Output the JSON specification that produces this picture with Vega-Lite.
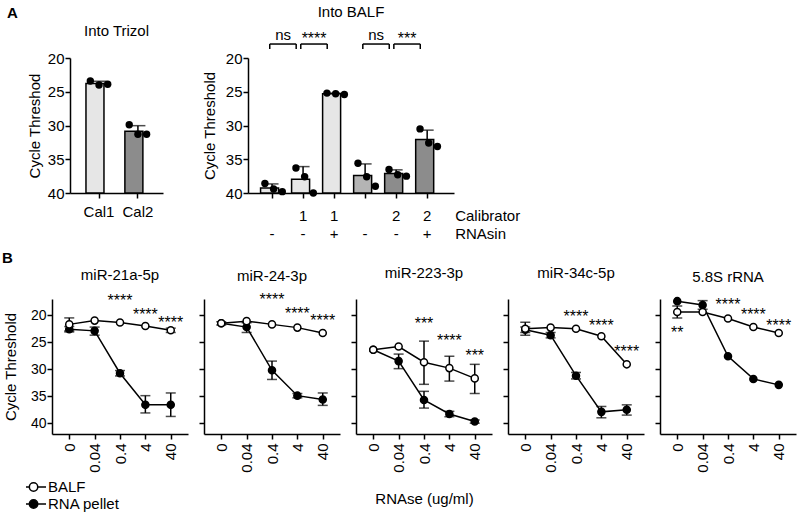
{
  "$schema": "https://vega.github.io/schema/vega-lite/v6.json",
  "background": "white",
  "padding": {"left": 2, "top": 4, "right": 5, "bottom": 5},
  "config": {
    "font": "Liberation Sans",
    "view": {"stroke": null},
    "axis": {"domainColor": "black", "domainWidth": 1.5, "tickColor": "black", "tickWidth": 1.5, "tickSize": 5, "labelColor": "black", "titleColor": "black", "titleFontWeight": "normal", "grid": false, "labelFontSize": 14, "titleFontSize": 15, "labelPadding": 1},
    "title": {"fontSize": 15, "fontWeight": "normal", "color": "black"},
    "legend": {"labelFontSize": 15, "labelColor": "black"}
  },
  "datasets": {
    "trizol": [
      {"cal": "Cal1", "rep": 1, "ct": 23.4}, {"cal": "Cal1", "rep": 2, "ct": 24.0}, {"cal": "Cal1", "rep": 3, "ct": 23.9},
      {"cal": "Cal2", "rep": 1, "ct": 29.9}, {"cal": "Cal2", "rep": 2, "ct": 31.3}, {"cal": "Cal2", "rep": 3, "ct": 31.3}
    ],
    "balf": [
      {"bar": "1", "rep": 1, "ct": 38.6}, {"bar": "1", "rep": 2, "ct": 39.4}, {"bar": "1", "rep": 3, "ct": 39.8},
      {"bar": "2", "rep": 1, "ct": 36.3}, {"bar": "2", "rep": 2, "ct": 37.6}, {"bar": "2", "rep": 3, "ct": 40.0},
      {"bar": "3", "rep": 1, "ct": 25.2}, {"bar": "3", "rep": 2, "ct": 25.3}, {"bar": "3", "rep": 3, "ct": 25.4},
      {"bar": "4", "rep": 1, "ct": 35.6}, {"bar": "4", "rep": 2, "ct": 37.6}, {"bar": "4", "rep": 3, "ct": 39.0},
      {"bar": "5", "rep": 1, "ct": 36.5}, {"bar": "5", "rep": 2, "ct": 37.3}, {"bar": "5", "rep": 3, "ct": 37.5},
      {"bar": "6", "rep": 1, "ct": 30.5}, {"bar": "6", "rep": 2, "ct": 32.6}, {"bar": "6", "rep": 3, "ct": 33.1}
    ],
    "conditions": [
      {"bar": "1", "calibrator": "", "rnasin": "-"},
      {"bar": "2", "calibrator": "1", "rnasin": "-"},
      {"bar": "3", "calibrator": "1", "rnasin": "+"},
      {"bar": "4", "calibrator": "", "rnasin": "-"},
      {"bar": "5", "calibrator": "2", "rnasin": "-"},
      {"bar": "6", "calibrator": "2", "rnasin": "+"}
    ],
    "rowlabels": [
      {"bar": "6", "row": "Calibrator", "y": 44.15},
      {"bar": "6", "row": "RNAsin", "y": 46.8}
    ],
    "brackets": [
      {"a": "1", "b": "2", "label": "ns"},
      {"a": "2", "b": "3", "label": "****"},
      {"a": "4", "b": "5", "label": "ns"},
      {"a": "5", "b": "6", "label": "***"}
    ],
    "curves": [
      {"target": "miR-21a-5p", "series": "RNA pellet", "dose": "0", "ct": 22.6, "lo": 22.1, "hi": 23.1},
      {"target": "miR-21a-5p", "series": "RNA pellet", "dose": "0.04", "ct": 22.9, "lo": 22.2, "hi": 23.7},
      {"target": "miR-21a-5p", "series": "RNA pellet", "dose": "0.4", "ct": 30.75, "lo": 30.25, "hi": 31.25},
      {"target": "miR-21a-5p", "series": "RNA pellet", "dose": "4", "ct": 36.6, "lo": 34.9, "hi": 38.1},
      {"target": "miR-21a-5p", "series": "RNA pellet", "dose": "40", "ct": 36.6, "lo": 34.4, "hi": 38.75},
      {"target": "miR-21a-5p", "series": "BALF", "dose": "0", "ct": 21.7, "lo": 20.5, "hi": 22.9},
      {"target": "miR-21a-5p", "series": "BALF", "dose": "0.04", "ct": 21.0, "lo": null, "hi": null},
      {"target": "miR-21a-5p", "series": "BALF", "dose": "0.4", "ct": 21.35, "lo": null, "hi": null},
      {"target": "miR-21a-5p", "series": "BALF", "dose": "4", "ct": 22.0, "lo": null, "hi": null},
      {"target": "miR-21a-5p", "series": "BALF", "dose": "40", "ct": 22.8, "lo": 22.4, "hi": 23.2},

      {"target": "miR-24-3p", "series": "RNA pellet", "dose": "0", "ct": 21.5, "lo": 21.2, "hi": 21.8},
      {"target": "miR-24-3p", "series": "RNA pellet", "dose": "0.04", "ct": 22.2, "lo": 21.4, "hi": 23.2},
      {"target": "miR-24-3p", "series": "RNA pellet", "dose": "0.4", "ct": 30.2, "lo": 28.5, "hi": 31.9},
      {"target": "miR-24-3p", "series": "RNA pellet", "dose": "4", "ct": 34.9, "lo": 34.5, "hi": 35.3},
      {"target": "miR-24-3p", "series": "RNA pellet", "dose": "40", "ct": 35.6, "lo": 34.4, "hi": 36.7},
      {"target": "miR-24-3p", "series": "BALF", "dose": "0", "ct": 21.5, "lo": null, "hi": null},
      {"target": "miR-24-3p", "series": "BALF", "dose": "0.04", "ct": 21.1, "lo": null, "hi": null},
      {"target": "miR-24-3p", "series": "BALF", "dose": "0.4", "ct": 21.7, "lo": null, "hi": null},
      {"target": "miR-24-3p", "series": "BALF", "dose": "4", "ct": 22.3, "lo": null, "hi": null},
      {"target": "miR-24-3p", "series": "BALF", "dose": "40", "ct": 23.3, "lo": null, "hi": null},

      {"target": "miR-223-3p", "series": "RNA pellet", "dose": "0", "ct": 26.4, "lo": null, "hi": null},
      {"target": "miR-223-3p", "series": "RNA pellet", "dose": "0.04", "ct": 28.5, "lo": 27.2, "hi": 29.9},
      {"target": "miR-223-3p", "series": "RNA pellet", "dose": "0.4", "ct": 35.7, "lo": 34.1, "hi": 37.2},
      {"target": "miR-223-3p", "series": "RNA pellet", "dose": "4", "ct": 38.3, "lo": 37.8, "hi": 38.8},
      {"target": "miR-223-3p", "series": "RNA pellet", "dose": "40", "ct": 39.7, "lo": 39.4, "hi": 40.0},
      {"target": "miR-223-3p", "series": "BALF", "dose": "0", "ct": 26.4, "lo": null, "hi": null},
      {"target": "miR-223-3p", "series": "BALF", "dose": "0.04", "ct": 25.8, "lo": null, "hi": null},
      {"target": "miR-223-3p", "series": "BALF", "dose": "0.4", "ct": 28.7, "lo": 24.8, "hi": 32.8},
      {"target": "miR-223-3p", "series": "BALF", "dose": "4", "ct": 29.8, "lo": 27.6, "hi": 32.2},
      {"target": "miR-223-3p", "series": "BALF", "dose": "40", "ct": 31.7, "lo": 29.1, "hi": 34.5},

      {"target": "miR-34c-5p", "series": "RNA pellet", "dose": "0", "ct": 22.7, "lo": 22.2, "hi": 23.2},
      {"target": "miR-34c-5p", "series": "RNA pellet", "dose": "0.04", "ct": 23.7, "lo": 23.2, "hi": 24.2},
      {"target": "miR-34c-5p", "series": "RNA pellet", "dose": "0.4", "ct": 31.2, "lo": 30.6, "hi": 31.8},
      {"target": "miR-34c-5p", "series": "RNA pellet", "dose": "4", "ct": 37.9, "lo": 36.9, "hi": 39.0},
      {"target": "miR-34c-5p", "series": "RNA pellet", "dose": "40", "ct": 37.5, "lo": 36.6, "hi": 38.5},
      {"target": "miR-34c-5p", "series": "BALF", "dose": "0", "ct": 22.5, "lo": 21.3, "hi": 23.7},
      {"target": "miR-34c-5p", "series": "BALF", "dose": "0.04", "ct": 22.3, "lo": null, "hi": null},
      {"target": "miR-34c-5p", "series": "BALF", "dose": "0.4", "ct": 22.5, "lo": null, "hi": null},
      {"target": "miR-34c-5p", "series": "BALF", "dose": "4", "ct": 23.9, "lo": null, "hi": null},
      {"target": "miR-34c-5p", "series": "BALF", "dose": "40", "ct": 29.1, "lo": null, "hi": null},

      {"target": "5.8S rRNA", "series": "RNA pellet", "dose": "0", "ct": 17.4, "lo": null, "hi": null},
      {"target": "5.8S rRNA", "series": "RNA pellet", "dose": "0.04", "ct": 18.1, "lo": 17.3, "hi": 18.9},
      {"target": "5.8S rRNA", "series": "RNA pellet", "dose": "0.4", "ct": 27.6, "lo": null, "hi": null},
      {"target": "5.8S rRNA", "series": "RNA pellet", "dose": "4", "ct": 31.8, "lo": null, "hi": null},
      {"target": "5.8S rRNA", "series": "RNA pellet", "dose": "40", "ct": 32.9, "lo": null, "hi": null},
      {"target": "5.8S rRNA", "series": "BALF", "dose": "0", "ct": 19.4, "lo": 18.3, "hi": 20.5},
      {"target": "5.8S rRNA", "series": "BALF", "dose": "0.04", "ct": 19.4, "lo": null, "hi": null},
      {"target": "5.8S rRNA", "series": "BALF", "dose": "0.4", "ct": 20.6, "lo": null, "hi": null},
      {"target": "5.8S rRNA", "series": "BALF", "dose": "4", "ct": 22.2, "lo": null, "hi": null},
      {"target": "5.8S rRNA", "series": "BALF", "dose": "40", "ct": 23.3, "lo": null, "hi": null}
    ],
    "stars": [
      {"target": "miR-21a-5p", "dose": "0.4", "label": "****", "y": 16.6},
      {"target": "miR-21a-5p", "dose": "4", "label": "****", "y": 19.2},
      {"target": "miR-21a-5p", "dose": "40", "label": "****", "y": 20.7},
      {"target": "miR-24-3p", "dose": "0.4", "label": "****", "y": 16.5},
      {"target": "miR-24-3p", "dose": "4", "label": "****", "y": 19.0},
      {"target": "miR-24-3p", "dose": "40", "label": "****", "y": 20.4},
      {"target": "miR-223-3p", "dose": "0.4", "label": "***", "y": 20.8},
      {"target": "miR-223-3p", "dose": "4", "label": "****", "y": 24.1},
      {"target": "miR-223-3p", "dose": "40", "label": "***", "y": 26.8},
      {"target": "miR-34c-5p", "dose": "0.4", "label": "****", "y": 19.5},
      {"target": "miR-34c-5p", "dose": "4", "label": "****", "y": 21.3},
      {"target": "miR-34c-5p", "dose": "40", "label": "****", "y": 26.0},
      {"target": "5.8S rRNA", "dose": "0", "label": "**", "y": 22.5},
      {"target": "5.8S rRNA", "dose": "0.4", "label": "****", "y": 17.4},
      {"target": "5.8S rRNA", "dose": "4", "label": "****", "y": 19.3},
      {"target": "5.8S rRNA", "dose": "40", "label": "****", "y": 21.3}
    ]
  },
  "columns": 1,
  "align": "none",
  "spacing": 9,
  "concat": [
    {
      "title": {"text": "A", "anchor": "start", "fontSize": 15, "fontWeight": "bold", "offset": -16, "dx": 5},
      "spacing": 39,
      "resolve": {"scale": {"color": "independent"}},
      "hconcat": [
        {
          "spacing": 0,
          "hconcat": [
            {"width": 25, "height": 135, "data": {"values": []}, "mark": "point"},
            {
              "width": 93, "height": 135,
              "title": {"text": "Into Trizol", "frame": "group", "offset": 12},
              "data": {"name": "trizol"},
              "encoding": {
                "x": {"field": "cal", "type": "nominal", "title": null, "scale": {"paddingInner": 0.33, "paddingOuter": 0.36, "align": 0.57}, "axis": {"labelAngle": 0, "labelFontSize": 15, "labelPadding": 6}}
              },
              "layer": [
                {
                  "transform": [
                    {"aggregate": [{"op": "mean", "field": "ct", "as": "m"}, {"op": "stdev", "field": "ct", "as": "sd"}], "groupby": ["cal"]},
                    {"calculate": "datum.m - datum.sd", "as": "top"}
                  ],
                  "layer": [
                    {"mark": {"type": "rule", "color": "black", "strokeWidth": 1.5}, "encoding": {"y": {"field": "m", "type": "quantitative", "title": "Cycle Threshod", "scale": {"domain": [20, 40], "reverse": true, "nice": false, "zero": false}, "axis": {"values": [20, 25, 30, 35, 40], "labelFontSize": 15, "titlePadding": 5}}, "y2": {"field": "top"}}},
                    {"mark": {"type": "tick", "color": "black", "thickness": 1.5, "size": 15}, "encoding": {"y": {"field": "top", "type": "quantitative", "title": "Cycle Threshod", "scale": {"domain": [20, 40], "reverse": true, "nice": false, "zero": false}, "axis": {"values": [20, 25, 30, 35, 40], "labelFontSize": 15, "titlePadding": 5}}}}
                  ]
                },
                {
                  "mark": {"type": "bar", "stroke": "black", "strokeWidth": 1.5},
                  "encoding": {
                    "y": {"aggregate": "mean", "field": "ct", "type": "quantitative", "title": "Cycle Threshod", "scale": {"domain": [20, 40], "reverse": true, "nice": false, "zero": false}, "axis": {"values": [20, 25, 30, 35, 40], "labelFontSize": 15, "titlePadding": 5}},
                    "y2": {"datum": 40},
                    "color": {"field": "cal", "type": "nominal", "scale": {"domain": ["Cal1", "Cal2"], "range": ["#e6e6e6", "#8c8c8c"]}, "legend": null}
                  }
                },
                {
                  "mark": {"type": "point", "shape": "circle", "filled": true, "color": "black", "size": 55, "opacity": 1},
                  "encoding": {
                    "y": {"field": "ct", "type": "quantitative", "title": "Cycle Threshod", "scale": {"domain": [20, 40], "reverse": true, "nice": false, "zero": false}, "axis": {"values": [20, 25, 30, 35, 40], "labelFontSize": 15, "titlePadding": 5}},
                    "xOffset": {"field": "rep", "type": "nominal"}
                  }
                }
              ]
            }
          ]
        },
        {
          "width": 206, "height": 135,
          "title": {"text": "Into BALF", "frame": "group", "offset": 8},
          "encoding": {
            "x": {"field": "bar", "type": "nominal", "title": null, "scale": {"domain": ["1", "2", "3", "4", "5", "6"], "paddingInner": 0.26, "paddingOuter": 0.45, "align": 0.45}, "axis": {"labels": false}}
          },
          "layer": [
            {
              "data": {"name": "balf"},
              "transform": [
                {"aggregate": [{"op": "mean", "field": "ct", "as": "m"}, {"op": "stdev", "field": "ct", "as": "sd"}], "groupby": ["bar"]},
                {"calculate": "datum.m - datum.sd", "as": "top"}
              ],
              "layer": [
                {"mark": {"type": "rule", "color": "black", "strokeWidth": 1.5}, "encoding": {"y": {"field": "m", "type": "quantitative", "title": "Cycle Threshold", "scale": {"domain": [20, 40], "reverse": true, "nice": false, "zero": false}, "axis": {"values": [20, 25, 30, 35, 40], "labelFontSize": 15, "titlePadding": 8}}, "y2": {"field": "top"}}},
                {"mark": {"type": "tick", "color": "black", "thickness": 1.5, "size": 13}, "encoding": {"y": {"field": "top", "type": "quantitative", "title": "Cycle Threshold", "scale": {"domain": [20, 40], "reverse": true, "nice": false, "zero": false}, "axis": {"values": [20, 25, 30, 35, 40], "labelFontSize": 15, "titlePadding": 8}}}}
              ]
            },
            {
              "data": {"name": "balf"},
              "mark": {"type": "bar", "stroke": "black", "strokeWidth": 1.5},
              "encoding": {
                "y": {"aggregate": "mean", "field": "ct", "type": "quantitative", "title": "Cycle Threshold", "scale": {"domain": [20, 40], "reverse": true, "nice": false, "zero": false}, "axis": {"values": [20, 25, 30, 35, 40], "labelFontSize": 15, "titlePadding": 8}},
                "y2": {"datum": 40},
                "color": {"field": "bar", "type": "nominal", "scale": {"domain": ["1", "2", "3", "4", "5", "6"], "range": ["#e6e6e6", "#e6e6e6", "#e6e6e6", "#b4b4b4", "#8c8c8c", "#8c8c8c"]}, "legend": null}
              }
            },
            {
              "data": {"name": "balf"},
              "mark": {"type": "point", "shape": "circle", "filled": true, "color": "black", "size": 55, "opacity": 1},
              "encoding": {
                "y": {"field": "ct", "type": "quantitative", "title": "Cycle Threshold", "scale": {"domain": [20, 40], "reverse": true, "nice": false, "zero": false}, "axis": {"values": [20, 25, 30, 35, 40], "labelFontSize": 15, "titlePadding": 8}},
                "xOffset": {"field": "rep", "type": "nominal"}
              }
            },
            {
              "data": {"name": "conditions"},
              "mark": {"type": "text", "fontSize": 15, "baseline": "alphabetic", "align": "center"},
              "encoding": {"y": {"datum": 44.15, "title": "Cycle Threshold", "scale": {"domain": [20, 40], "reverse": true, "nice": false, "zero": false}, "axis": {"values": [20, 25, 30, 35, 40], "labelFontSize": 15, "titlePadding": 8}}, "text": {"field": "calibrator"}}
            },
            {
              "data": {"name": "conditions"},
              "mark": {"type": "text", "fontSize": 15, "baseline": "alphabetic", "align": "center"},
              "encoding": {"y": {"datum": 46.8, "title": "Cycle Threshold", "scale": {"domain": [20, 40], "reverse": true, "nice": false, "zero": false}, "axis": {"values": [20, 25, 30, 35, 40], "labelFontSize": 15, "titlePadding": 8}}, "text": {"field": "rnasin"}}
            },
            {
              "data": {"name": "rowlabels"},
              "mark": {"type": "text", "fontSize": 15, "baseline": "alphabetic", "align": "left"},
              "encoding": {"x": {"field": "bar", "type": "nominal", "bandPosition": 1.72}, "y": {"field": "y", "type": "quantitative", "title": "Cycle Threshold", "scale": {"domain": [20, 40], "reverse": true, "nice": false, "zero": false}, "axis": {"values": [20, 25, 30, 35, 40], "labelFontSize": 15, "titlePadding": 8}}, "text": {"field": "row"}}
            },
            {
              "data": {"name": "brackets"},
              "mark": {"type": "rule", "color": "black", "strokeWidth": 1.5},
              "encoding": {"x": {"field": "a", "type": "nominal", "bandPosition": 0.4}, "x2": {"field": "b", "bandPosition": 0.2}, "y": {"datum": 17.93, "title": "Cycle Threshold", "scale": {"domain": [20, 40], "reverse": true, "nice": false, "zero": false}, "axis": {"values": [20, 25, 30, 35, 40], "labelFontSize": 15, "titlePadding": 8}}}
            },
            {
              "data": {"name": "brackets"},
              "mark": {"type": "rule", "color": "black", "strokeWidth": 1.5},
              "encoding": {"x": {"field": "a", "type": "nominal", "bandPosition": 0.4}, "y": {"datum": 17.93, "title": "Cycle Threshold", "scale": {"domain": [20, 40], "reverse": true, "nice": false, "zero": false}, "axis": {"values": [20, 25, 30, 35, 40], "labelFontSize": 15, "titlePadding": 8}}, "y2": {"datum": 18.67}}
            },
            {
              "data": {"name": "brackets"},
              "mark": {"type": "rule", "color": "black", "strokeWidth": 1.5},
              "encoding": {"x": {"field": "b", "type": "nominal", "bandPosition": 0.2}, "y": {"datum": 17.93, "title": "Cycle Threshold", "scale": {"domain": [20, 40], "reverse": true, "nice": false, "zero": false}, "axis": {"values": [20, 25, 30, 35, 40], "labelFontSize": 15, "titlePadding": 8}}, "y2": {"datum": 18.67}}
            },
            {
              "data": {"name": "brackets"},
              "transform": [{"filter": "datum.label === 'ns'"}],
              "mark": {"type": "text", "fontSize": 15, "baseline": "alphabetic", "align": "center"},
              "encoding": {"x": {"field": "a", "type": "nominal", "bandPosition": 0.98}, "y": {"datum": 17.3, "title": "Cycle Threshold", "scale": {"domain": [20, 40], "reverse": true, "nice": false, "zero": false}, "axis": {"values": [20, 25, 30, 35, 40], "labelFontSize": 15, "titlePadding": 8}}, "text": {"field": "label"}}
            },
            {
              "data": {"name": "brackets"},
              "transform": [{"filter": "datum.label !== 'ns'"}],
              "mark": {"type": "text", "fontSize": 16, "baseline": "alphabetic", "align": "center"},
              "encoding": {"x": {"field": "a", "type": "nominal", "bandPosition": 0.98}, "y": {"datum": 17.95, "title": "Cycle Threshold", "scale": {"domain": [20, 40], "reverse": true, "nice": false, "zero": false}, "axis": {"values": [20, 25, 30, 35, 40], "labelFontSize": 15, "titlePadding": 8}}, "text": {"field": "label"}}
            }
          ]
        }
      ]
    },
    {
      "title": {"text": "B", "anchor": "start", "fontSize": 15, "fontWeight": "bold", "offset": 0},
      "spacing": 10,
      "hconcat": [
        {
          "spacing": 0,
          "hconcat": [
            {"width": 1, "height": 135, "data": {"values": []}, "mark": "point"},
            {
              "width": 136, "height": 135,
              "title": {"text": "miR-21a-5p", "frame": "group", "offset": 10},
              "data": {"name": "curves"},
              "transform": [{"filter": "datum.target === 'miR-21a-5p'"}],
              "encoding": {"x": {"field": "dose", "type": "ordinal", "title": null, "sort": ["0", "0.04", "0.4", "4", "40"], "scale": {"type": "point", "padding": 0.68}, "axis": {"labelAngle": 270, "labelFontSize": 15, "labelPadding": 4}}},
              "layer": [
                {"mark": {"type": "rule", "color": "black", "strokeWidth": 1.5}, "encoding": {"y": {"field": "lo", "type": "quantitative", "title": "Cycle Threshold", "scale": {"domain": [17, 42], "reverse": true, "nice": false, "zero": false}, "axis": {"values": [20, 25, 30, 35, 40], "titlePadding": 12}}, "y2": {"field": "hi"}}},
                {"mark": {"type": "tick", "color": "black", "thickness": 1.5, "size": 10}, "encoding": {"y": {"field": "lo", "type": "quantitative", "title": "Cycle Threshold", "scale": {"domain": [17, 42], "reverse": true, "nice": false, "zero": false}, "axis": {"values": [20, 25, 30, 35, 40], "titlePadding": 12}}}},
                {"mark": {"type": "tick", "color": "black", "thickness": 1.5, "size": 10}, "encoding": {"y": {"field": "hi", "type": "quantitative", "title": "Cycle Threshold", "scale": {"domain": [17, 42], "reverse": true, "nice": false, "zero": false}, "axis": {"values": [20, 25, 30, 35, 40], "titlePadding": 12}}}},
                {"mark": {"type": "line", "color": "black", "strokeWidth": 1.5}, "encoding": {"y": {"field": "ct", "type": "quantitative", "title": "Cycle Threshold", "scale": {"domain": [17, 42], "reverse": true, "nice": false, "zero": false}, "axis": {"values": [20, 25, 30, 35, 40], "titlePadding": 12}}, "detail": {"field": "series"}}},
                {"mark": {"type": "point", "shape": "circle", "filled": true, "stroke": "black", "strokeWidth": 1.5, "size": 50, "opacity": 1}, "encoding": {"y": {"field": "ct", "type": "quantitative", "title": "Cycle Threshold", "scale": {"domain": [17, 42], "reverse": true, "nice": false, "zero": false}, "axis": {"values": [20, 25, 30, 35, 40], "titlePadding": 12}}, "fill": {"field": "series", "type": "nominal", "scale": {"domain": ["BALF", "RNA pellet"], "range": ["white", "black"]}, "legend": {"title": null, "orient": "none", "legendX": 26, "legendY": 421, "symbolType": "M-1.43,0L-0.95,0M-0.35,-0.6A0.6,0.6,0,1,1,-0.35,0.6A0.6,0.6,0,1,1,-0.35,-0.6M0.25,0L1.43,0", "symbolSize": 196, "symbolStrokeColor": "black", "symbolStrokeWidth": 1.5, "rowPadding": 1}}}},
                {"data": {"name": "stars"}, "transform": [{"filter": "datum.target === 'miR-21a-5p'"}], "mark": {"type": "text", "fontSize": 16, "baseline": "alphabetic", "dy": 9}, "encoding": {"y": {"field": "y", "type": "quantitative", "title": "Cycle Threshold", "scale": {"domain": [17, 42], "reverse": true, "nice": false, "zero": false}, "axis": {"values": [20, 25, 30, 35, 40], "titlePadding": 12}}, "text": {"field": "label"}}}
              ]
            }
          ]
        },
        {
          "width": 136, "height": 135,
          "title": {"text": "miR-24-3p", "frame": "group", "offset": 8},
          "data": {"name": "curves"},
          "transform": [{"filter": "datum.target === 'miR-24-3p'"}],
          "encoding": {"x": {"field": "dose", "type": "ordinal", "title": null, "sort": ["0", "0.04", "0.4", "4", "40"], "scale": {"type": "point", "padding": 0.68}, "axis": {"labelAngle": 270, "labelFontSize": 15, "labelPadding": 4}}},
          "layer": [
            {"mark": {"type": "rule", "color": "black", "strokeWidth": 1.5}, "encoding": {"y": {"field": "lo", "type": "quantitative", "title": null, "scale": {"domain": [17, 42], "reverse": true, "nice": false, "zero": false}, "axis": {"values": [20, 25, 30, 35, 40], "labels": false}}, "y2": {"field": "hi"}}},
            {"mark": {"type": "tick", "color": "black", "thickness": 1.5, "size": 10}, "encoding": {"y": {"field": "lo", "type": "quantitative", "title": null, "scale": {"domain": [17, 42], "reverse": true, "nice": false, "zero": false}, "axis": {"values": [20, 25, 30, 35, 40], "labels": false}}}},
            {"mark": {"type": "tick", "color": "black", "thickness": 1.5, "size": 10}, "encoding": {"y": {"field": "hi", "type": "quantitative", "title": null, "scale": {"domain": [17, 42], "reverse": true, "nice": false, "zero": false}, "axis": {"values": [20, 25, 30, 35, 40], "labels": false}}}},
            {"mark": {"type": "line", "color": "black", "strokeWidth": 1.5}, "encoding": {"y": {"field": "ct", "type": "quantitative", "title": null, "scale": {"domain": [17, 42], "reverse": true, "nice": false, "zero": false}, "axis": {"values": [20, 25, 30, 35, 40], "labels": false}}, "detail": {"field": "series"}}},
            {"mark": {"type": "point", "shape": "circle", "filled": true, "stroke": "black", "strokeWidth": 1.5, "size": 50, "opacity": 1}, "encoding": {"y": {"field": "ct", "type": "quantitative", "title": null, "scale": {"domain": [17, 42], "reverse": true, "nice": false, "zero": false}, "axis": {"values": [20, 25, 30, 35, 40], "labels": false}}, "fill": {"field": "series", "type": "nominal", "scale": {"domain": ["BALF", "RNA pellet"], "range": ["white", "black"]}, "legend": {"title": null, "orient": "none", "legendX": 26, "legendY": 421, "symbolType": "M-1.43,0L-0.95,0M-0.35,-0.6A0.6,0.6,0,1,1,-0.35,0.6A0.6,0.6,0,1,1,-0.35,-0.6M0.25,0L1.43,0", "symbolSize": 196, "symbolStrokeColor": "black", "symbolStrokeWidth": 1.5, "rowPadding": 1}}}},
            {"data": {"name": "stars"}, "transform": [{"filter": "datum.target === 'miR-24-3p'"}], "mark": {"type": "text", "fontSize": 16, "baseline": "alphabetic", "dy": 9}, "encoding": {"y": {"field": "y", "type": "quantitative", "title": null, "scale": {"domain": [17, 42], "reverse": true, "nice": false, "zero": false}, "axis": {"values": [20, 25, 30, 35, 40], "labels": false}}, "text": {"field": "label"}}}
          ]
        },
        {
          "width": 136, "height": 135,
          "title": {"text": "miR-223-3p", "frame": "group", "offset": 18},
          "data": {"name": "curves"},
          "transform": [{"filter": "datum.target === 'miR-223-3p'"}],
          "encoding": {"x": {"field": "dose", "type": "ordinal", "title": "RNAse (ug/ml)", "sort": ["0", "0.04", "0.4", "4", "40"], "scale": {"type": "point", "padding": 0.68}, "axis": {"labelAngle": 270, "labelFontSize": 15, "labelPadding": 4, "titlePadding": 19}}},
          "layer": [
            {"mark": {"type": "rule", "color": "black", "strokeWidth": 1.5}, "encoding": {"y": {"field": "lo", "type": "quantitative", "title": null, "scale": {"domain": [17, 42], "reverse": true, "nice": false, "zero": false}, "axis": {"values": [20, 25, 30, 35, 40], "labels": false}}, "y2": {"field": "hi"}}},
            {"mark": {"type": "tick", "color": "black", "thickness": 1.5, "size": 10}, "encoding": {"y": {"field": "lo", "type": "quantitative", "title": null, "scale": {"domain": [17, 42], "reverse": true, "nice": false, "zero": false}, "axis": {"values": [20, 25, 30, 35, 40], "labels": false}}}},
            {"mark": {"type": "tick", "color": "black", "thickness": 1.5, "size": 10}, "encoding": {"y": {"field": "hi", "type": "quantitative", "title": null, "scale": {"domain": [17, 42], "reverse": true, "nice": false, "zero": false}, "axis": {"values": [20, 25, 30, 35, 40], "labels": false}}}},
            {"mark": {"type": "line", "color": "black", "strokeWidth": 1.5}, "encoding": {"y": {"field": "ct", "type": "quantitative", "title": null, "scale": {"domain": [17, 42], "reverse": true, "nice": false, "zero": false}, "axis": {"values": [20, 25, 30, 35, 40], "labels": false}}, "detail": {"field": "series"}}},
            {"mark": {"type": "point", "shape": "circle", "filled": true, "stroke": "black", "strokeWidth": 1.5, "size": 50, "opacity": 1}, "encoding": {"y": {"field": "ct", "type": "quantitative", "title": null, "scale": {"domain": [17, 42], "reverse": true, "nice": false, "zero": false}, "axis": {"values": [20, 25, 30, 35, 40], "labels": false}}, "fill": {"field": "series", "type": "nominal", "scale": {"domain": ["BALF", "RNA pellet"], "range": ["white", "black"]}, "legend": {"title": null, "orient": "none", "legendX": 26, "legendY": 421, "symbolType": "M-1.43,0L-0.95,0M-0.35,-0.6A0.6,0.6,0,1,1,-0.35,0.6A0.6,0.6,0,1,1,-0.35,-0.6M0.25,0L1.43,0", "symbolSize": 196, "symbolStrokeColor": "black", "symbolStrokeWidth": 1.5, "rowPadding": 1}}}},
            {"data": {"name": "stars"}, "transform": [{"filter": "datum.target === 'miR-223-3p'"}], "mark": {"type": "text", "fontSize": 16, "baseline": "alphabetic", "dy": 9}, "encoding": {"y": {"field": "y", "type": "quantitative", "title": null, "scale": {"domain": [17, 42], "reverse": true, "nice": false, "zero": false}, "axis": {"values": [20, 25, 30, 35, 40], "labels": false}}, "text": {"field": "label"}}}
          ]
        },
        {
          "width": 136, "height": 135,
          "title": {"text": "miR-34c-5p", "frame": "group", "offset": 18},
          "data": {"name": "curves"},
          "transform": [{"filter": "datum.target === 'miR-34c-5p'"}],
          "encoding": {"x": {"field": "dose", "type": "ordinal", "title": null, "sort": ["0", "0.04", "0.4", "4", "40"], "scale": {"type": "point", "padding": 0.68}, "axis": {"labelAngle": 270, "labelFontSize": 15, "labelPadding": 4}}},
          "layer": [
            {"mark": {"type": "rule", "color": "black", "strokeWidth": 1.5}, "encoding": {"y": {"field": "lo", "type": "quantitative", "title": null, "scale": {"domain": [17, 42], "reverse": true, "nice": false, "zero": false}, "axis": {"values": [20, 25, 30, 35, 40], "labels": false}}, "y2": {"field": "hi"}}},
            {"mark": {"type": "tick", "color": "black", "thickness": 1.5, "size": 10}, "encoding": {"y": {"field": "lo", "type": "quantitative", "title": null, "scale": {"domain": [17, 42], "reverse": true, "nice": false, "zero": false}, "axis": {"values": [20, 25, 30, 35, 40], "labels": false}}}},
            {"mark": {"type": "tick", "color": "black", "thickness": 1.5, "size": 10}, "encoding": {"y": {"field": "hi", "type": "quantitative", "title": null, "scale": {"domain": [17, 42], "reverse": true, "nice": false, "zero": false}, "axis": {"values": [20, 25, 30, 35, 40], "labels": false}}}},
            {"mark": {"type": "line", "color": "black", "strokeWidth": 1.5}, "encoding": {"y": {"field": "ct", "type": "quantitative", "title": null, "scale": {"domain": [17, 42], "reverse": true, "nice": false, "zero": false}, "axis": {"values": [20, 25, 30, 35, 40], "labels": false}}, "detail": {"field": "series"}}},
            {"mark": {"type": "point", "shape": "circle", "filled": true, "stroke": "black", "strokeWidth": 1.5, "size": 50, "opacity": 1}, "encoding": {"y": {"field": "ct", "type": "quantitative", "title": null, "scale": {"domain": [17, 42], "reverse": true, "nice": false, "zero": false}, "axis": {"values": [20, 25, 30, 35, 40], "labels": false}}, "fill": {"field": "series", "type": "nominal", "scale": {"domain": ["BALF", "RNA pellet"], "range": ["white", "black"]}, "legend": {"title": null, "orient": "none", "legendX": 26, "legendY": 421, "symbolType": "M-1.43,0L-0.95,0M-0.35,-0.6A0.6,0.6,0,1,1,-0.35,0.6A0.6,0.6,0,1,1,-0.35,-0.6M0.25,0L1.43,0", "symbolSize": 196, "symbolStrokeColor": "black", "symbolStrokeWidth": 1.5, "rowPadding": 1}}}},
            {"data": {"name": "stars"}, "transform": [{"filter": "datum.target === 'miR-34c-5p'"}], "mark": {"type": "text", "fontSize": 16, "baseline": "alphabetic", "dy": 9}, "encoding": {"y": {"field": "y", "type": "quantitative", "title": null, "scale": {"domain": [17, 42], "reverse": true, "nice": false, "zero": false}, "axis": {"values": [20, 25, 30, 35, 40], "labels": false}}, "text": {"field": "label"}}}
          ]
        },
        {
          "width": 136, "height": 135,
          "title": {"text": "5.8S rRNA", "frame": "group", "offset": 10},
          "data": {"name": "curves"},
          "transform": [{"filter": "datum.target === '5.8S rRNA'"}],
          "encoding": {"x": {"field": "dose", "type": "ordinal", "title": null, "sort": ["0", "0.04", "0.4", "4", "40"], "scale": {"type": "point", "padding": 0.68}, "axis": {"labelAngle": 270, "labelFontSize": 15, "labelPadding": 4}}},
          "layer": [
            {"mark": {"type": "rule", "color": "black", "strokeWidth": 1.5}, "encoding": {"y": {"field": "lo", "type": "quantitative", "title": null, "scale": {"domain": [17, 42], "reverse": true, "nice": false, "zero": false}, "axis": {"values": [20, 25, 30, 35, 40], "labels": false}}, "y2": {"field": "hi"}}},
            {"mark": {"type": "tick", "color": "black", "thickness": 1.5, "size": 10}, "encoding": {"y": {"field": "lo", "type": "quantitative", "title": null, "scale": {"domain": [17, 42], "reverse": true, "nice": false, "zero": false}, "axis": {"values": [20, 25, 30, 35, 40], "labels": false}}}},
            {"mark": {"type": "tick", "color": "black", "thickness": 1.5, "size": 10}, "encoding": {"y": {"field": "hi", "type": "quantitative", "title": null, "scale": {"domain": [17, 42], "reverse": true, "nice": false, "zero": false}, "axis": {"values": [20, 25, 30, 35, 40], "labels": false}}}},
            {"mark": {"type": "line", "color": "black", "strokeWidth": 1.5}, "encoding": {"y": {"field": "ct", "type": "quantitative", "title": null, "scale": {"domain": [17, 42], "reverse": true, "nice": false, "zero": false}, "axis": {"values": [20, 25, 30, 35, 40], "labels": false}}, "detail": {"field": "series"}}},
            {"mark": {"type": "point", "shape": "circle", "filled": true, "stroke": "black", "strokeWidth": 1.5, "size": 50, "opacity": 1}, "encoding": {"y": {"field": "ct", "type": "quantitative", "title": null, "scale": {"domain": [17, 42], "reverse": true, "nice": false, "zero": false}, "axis": {"values": [20, 25, 30, 35, 40], "labels": false}}, "fill": {"field": "series", "type": "nominal", "scale": {"domain": ["BALF", "RNA pellet"], "range": ["white", "black"]}, "legend": {"title": null, "orient": "none", "legendX": 26, "legendY": 421, "symbolType": "M-1.43,0L-0.95,0M-0.35,-0.6A0.6,0.6,0,1,1,-0.35,0.6A0.6,0.6,0,1,1,-0.35,-0.6M0.25,0L1.43,0", "symbolSize": 196, "symbolStrokeColor": "black", "symbolStrokeWidth": 1.5, "rowPadding": 1}}}},
            {"data": {"name": "stars"}, "transform": [{"filter": "datum.target === '5.8S rRNA'"}], "mark": {"type": "text", "fontSize": 16, "baseline": "alphabetic", "dy": 9}, "encoding": {"y": {"field": "y", "type": "quantitative", "title": null, "scale": {"domain": [17, 42], "reverse": true, "nice": false, "zero": false}, "axis": {"values": [20, 25, 30, 35, 40], "labels": false}}, "text": {"field": "label"}}}
          ]
        }
      ]
    }
  ]
}
